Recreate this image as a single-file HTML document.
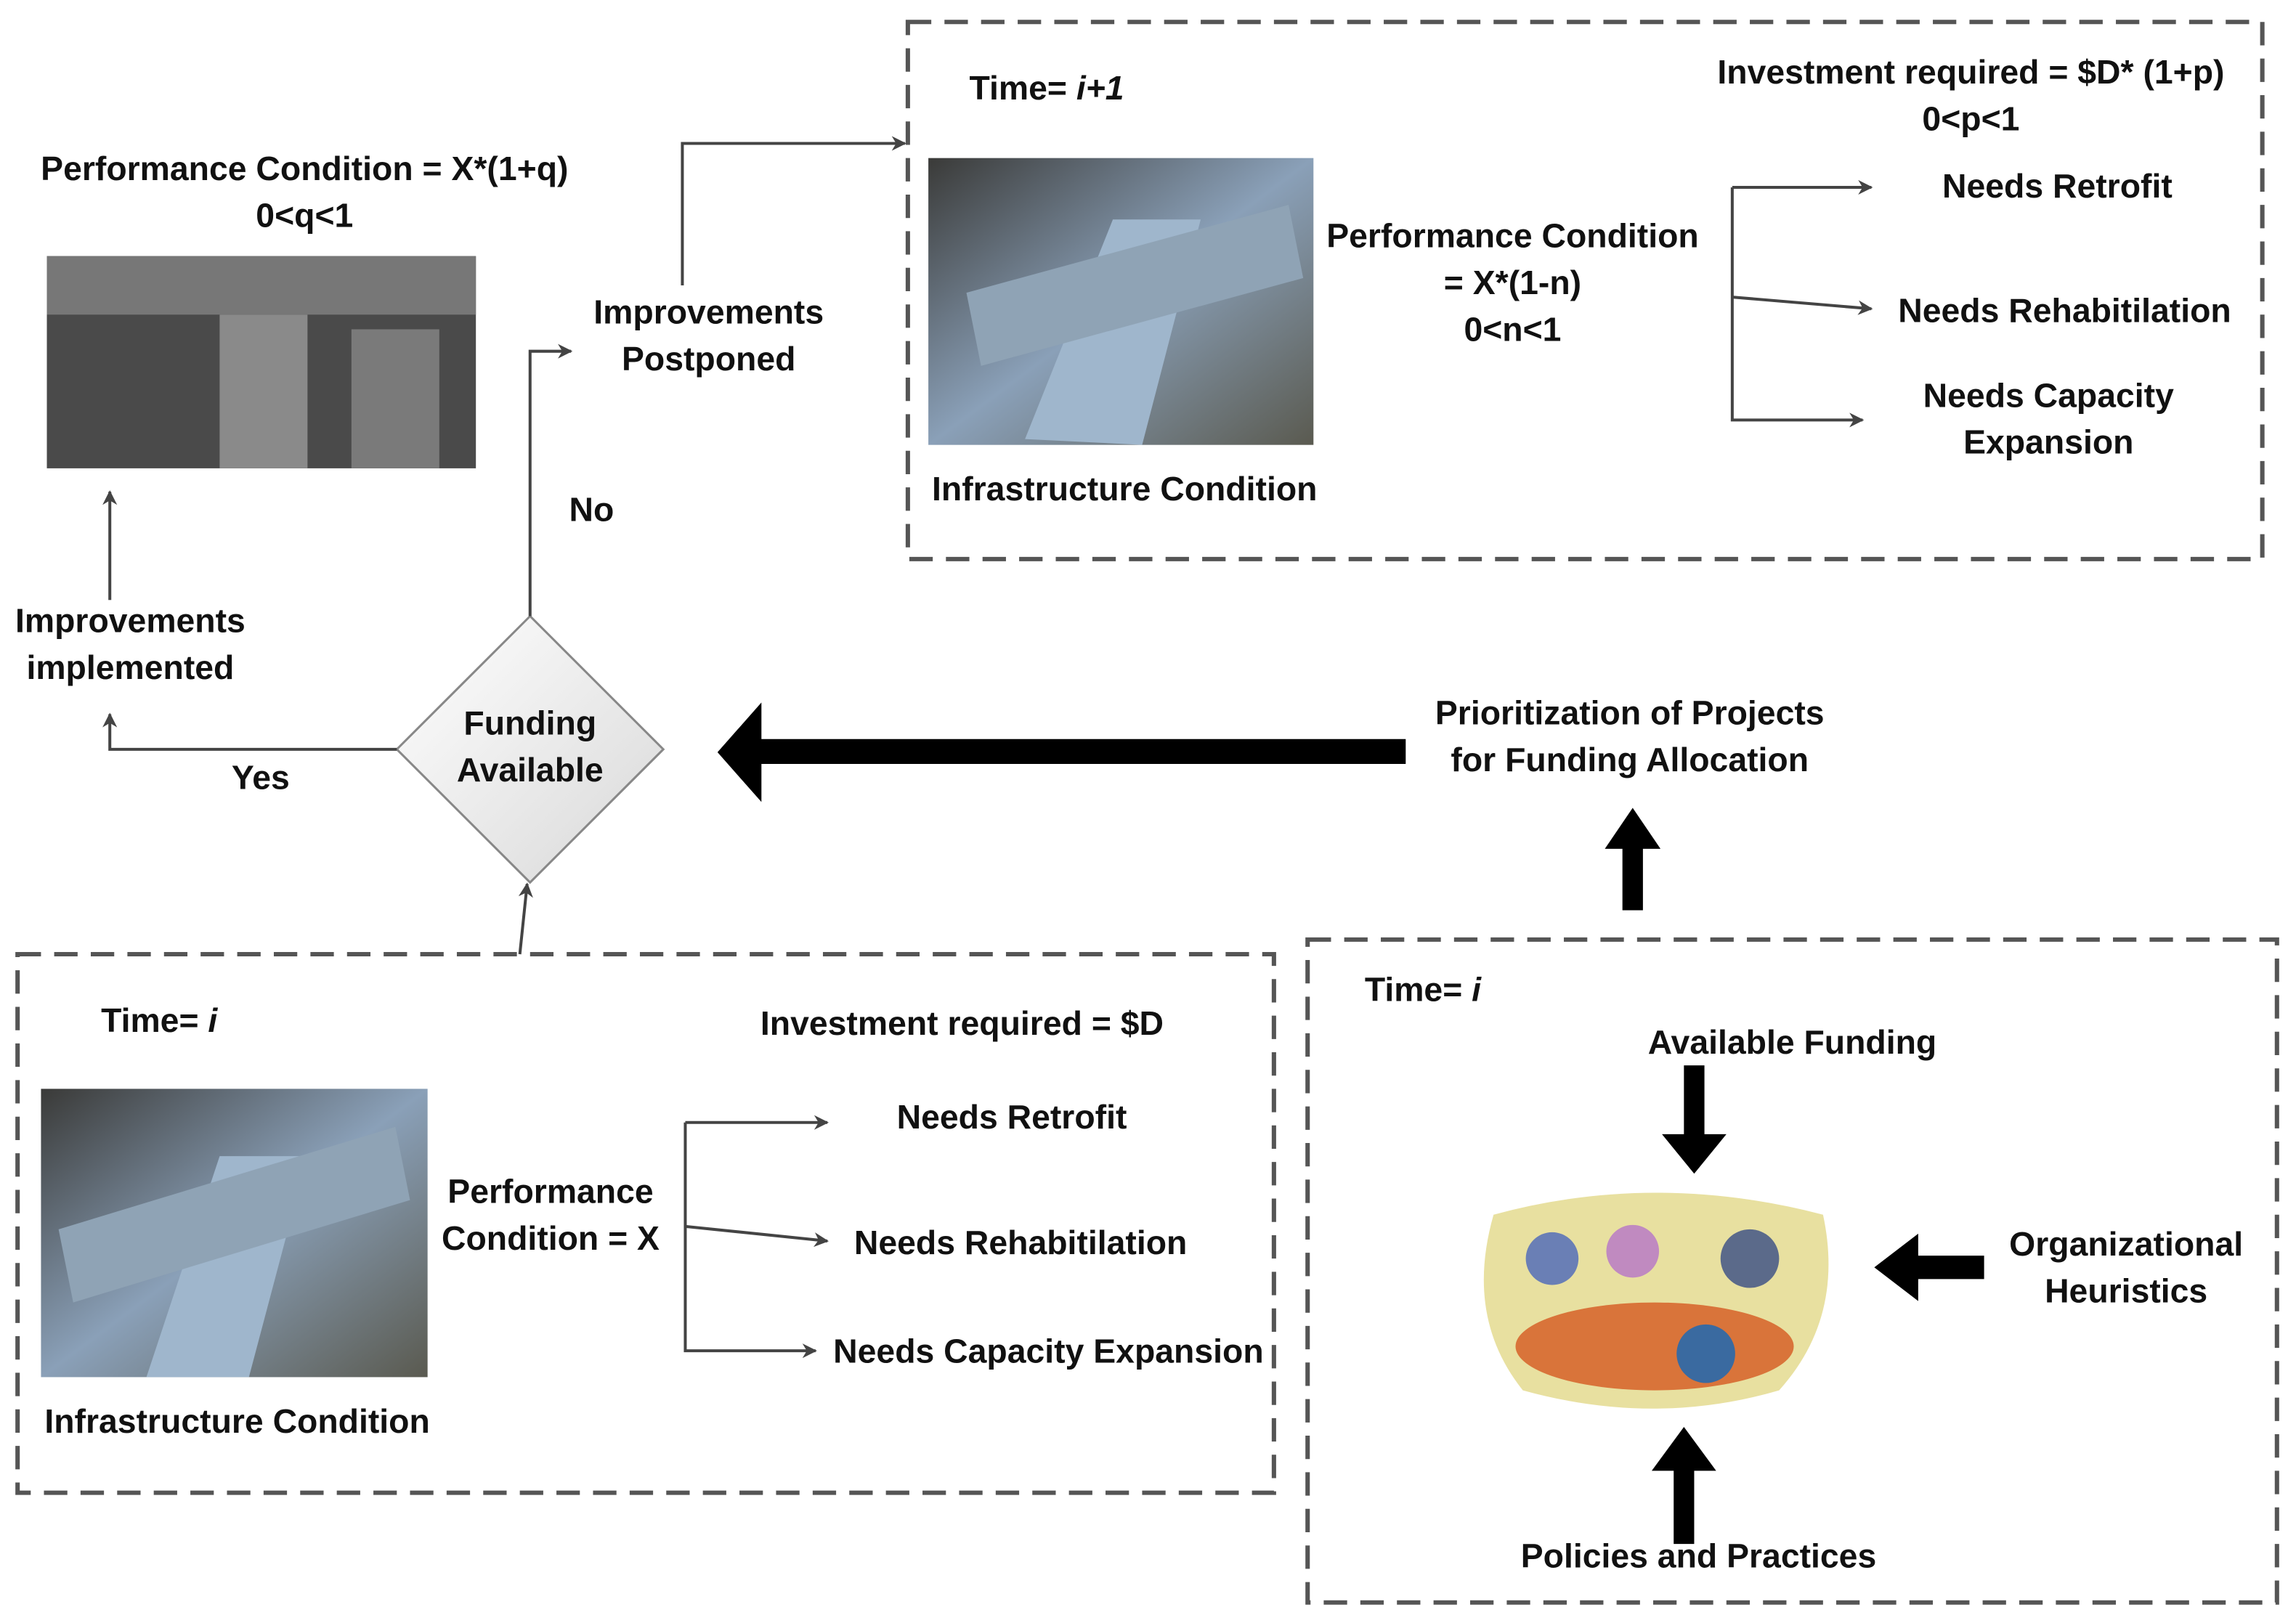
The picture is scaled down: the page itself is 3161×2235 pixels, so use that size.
<!DOCTYPE html>
<html><head><meta charset="utf-8"><style>
html,body{margin:0;padding:0;background:#fff}
svg{display:block}
text{font-family:"Liberation Sans",sans-serif;font-weight:bold;font-size:23px;fill:#111}
</style></head><body>
<svg width="3161" height="2235" viewBox="0 0 1568 1109" preserveAspectRatio="none" xmlns="http://www.w3.org/2000/svg">
<defs>
<marker id="a" markerWidth="10" markerHeight="10" refX="9" refY="5" orient="auto" markerUnits="userSpaceOnUse"><path d="M0,0 L10,5 L0,10 L3,5 z" fill="#444"/></marker>
<linearGradient id="dg" x1="0" y1="0" x2="1" y2="1"><stop offset="0" stop-color="#fff"/><stop offset="1" stop-color="#d8d8d8"/></linearGradient>
<linearGradient id="p1" x1="0" y1="0" x2="1" y2="1"><stop offset="0" stop-color="#3a3a38"/><stop offset="0.5" stop-color="#8aa0b8"/><stop offset="1" stop-color="#5a5a50"/></linearGradient>
</defs>
<g fill="none" stroke="#555" stroke-width="3" stroke-dasharray="16,9">
<rect x="620" y="15" width="925" height="367"/>
<rect x="12" y="652" width="858" height="368"/>
<rect x="893" y="642" width="662" height="453"/>
</g>
<rect x="32" y="175" width="293" height="145" fill="#4a4a4a"/>
<rect x="32" y="175" width="293" height="40" fill="#777"/>
<rect x="150" y="215" width="60" height="105" fill="#8a8a8a"/>
<rect x="240" y="225" width="60" height="95" fill="#7a7a7a"/>
<rect x="634" y="108" width="263" height="196" fill="url(#p1)"/>
<path d="M700,300 L760,150 L820,150 L780,304 Z" fill="#9fb6cc"/>
<path d="M660,200 L880,140 L890,190 L670,250 Z" fill="#8fa3b5"/>
<rect x="28" y="744" width="264" height="197" fill="url(#p1)"/>
<path d="M100,941 L150,790 L210,790 L170,941 Z" fill="#9fb6cc"/>
<path d="M40,840 L270,770 L280,820 L50,890 Z" fill="#8fa3b5"/>
<path d="M1020,830 Q1130,800 1245,830 Q1260,900 1215,950 Q1130,975 1040,950 Q1000,900 1020,830 Z" fill="#e8e0a0"/>
<ellipse cx="1130" cy="920" rx="95" ry="30" fill="#d9743a"/>
<circle cx="1060" cy="860" r="18" fill="#6a7fb5"/><circle cx="1115" cy="855" r="18" fill="#c08ac0"/>
<circle cx="1195" cy="860" r="20" fill="#5b6a8a"/><circle cx="1165" cy="925" r="20" fill="#3a6aa0"/>
<path d="M362,421 L453,512 L362,603 L271,512 Z" fill="url(#dg)" stroke="#888" stroke-width="1.5"/>
<g fill="none" stroke="#444" stroke-width="2" marker-end="url(#a)">
<path d="M271,512 L75,512 L75,488"/>
<path d="M75,410 L75,336"/>
<path d="M362,421 L362,240 L390,240"/>
<path d="M466,195 L466,98 L618,98"/>
<path d="M355,652 L360,604"/>
<path d="M1183,128 L1278,128"/>
<path d="M1183,203 L1278,211"/>
<path d="M1183,128 L1183,287 L1272,287"/>
<path d="M468,767 L565,767"/>
<path d="M468,838 L565,848"/>
<path d="M468,767 L468,923 L557,923"/>
</g>
<g fill="#000">
<path d="M960,505 L520,505 L520,480 L490,514 L520,548 L520,522 L960,522 Z"/>
<path d="M1108,622 L1108,580 L1096,580 L1115,552 L1134,580 L1122,580 L1122,622 Z"/>
<path d="M1150,728 L1150,775 L1135,775 L1157,802 L1179,775 L1164,775 L1164,728 Z"/>
<path d="M1355,858 L1310,858 L1310,843 L1280,866 L1310,889 L1310,874 L1355,874 Z"/>
<path d="M1143,1055 L1143,1005 L1128,1005 L1150,975 L1172,1005 L1157,1005 L1157,1055 Z"/>
</g>
<g text-anchor="middle">
<text x="208" y="123">Performance Condition = X*(1+q)</text>
<text x="208" y="155">0&lt;q&lt;1</text>
<text x="484" y="221">Improvements</text>
<text x="484" y="253">Postponed</text>
<text x="404" y="356">No</text>
<text x="89" y="432">Improvements</text>
<text x="89" y="464">implemented</text>
<text x="178" y="539">Yes</text>
<text x="362" y="502">Funding</text>
<text x="362" y="534">Available</text>
<text x="1346" y="57">Investment required = $D* (1+p)</text>
<text x="1346" y="89">0&lt;p&lt;1</text>
<text x="1033" y="169">Performance Condition</text>
<text x="1033" y="201">= X*(1-n)</text>
<text x="1033" y="233">0&lt;n&lt;1</text>
<text x="1405" y="135">Needs Retrofit</text>
<text x="1410" y="220">Needs Rehabitilation</text>
<text x="1399" y="278">Needs Capacity</text>
<text x="1399" y="310">Expansion</text>
<text x="768" y="342">Infrastructure Condition</text>
<text x="1113" y="495">Prioritization of Projects</text>
<text x="1113" y="527">for Funding Allocation</text>
<text x="657" y="707">Investment required = $D</text>
<text x="376" y="822">Performance</text>
<text x="376" y="854">Condition = X</text>
<text x="691" y="771">Needs Retrofit</text>
<text x="697" y="857">Needs Rehabitilation</text>
<text x="716" y="931">Needs Capacity Expansion</text>
<text x="162" y="979">Infrastructure Condition</text>
<text x="1224" y="720">Available Funding</text>
<text x="1452" y="858">Organizational</text>
<text x="1452" y="890">Heuristics</text>
<text x="1160" y="1071">Policies and Practices</text>
</g>
<text x="662" y="68">Time= <tspan font-style="italic">i+1</tspan></text>
<text x="69" y="705">Time= <tspan font-style="italic">i</tspan></text>
<text x="932" y="684">Time= <tspan font-style="italic">i</tspan></text>
</svg>
</body></html>
